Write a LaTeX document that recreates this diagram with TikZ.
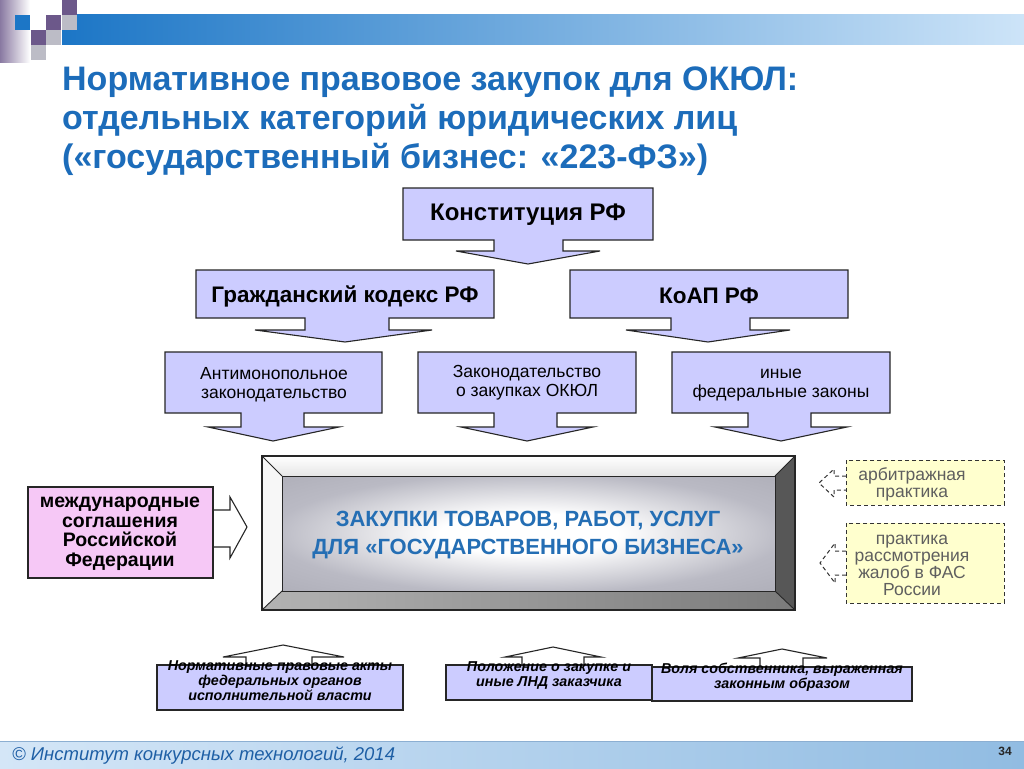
\documentclass[tikz,border=0pt]{standalone}
\usepackage{fontspec}
\setmainfont{Liberation Sans}
\usetikzlibrary{calc}
\definecolor{lav}{RGB}{204,204,255}
\definecolor{pinkf}{RGB}{246,200,246}
\definecolor{yelf}{RGB}{255,255,206}
\definecolor{tblue}{RGB}{28,108,186}
\definecolor{cblue}{RGB}{36,110,180}
\definecolor{fblue}{RGB}{30,95,165}
\definecolor{barblue}{RGB}{28,118,198}
\definecolor{barlight}{RGB}{205,228,248}
\definecolor{sqpurple}{RGB}{108,88,138}
\definecolor{sqgray}{RGB}{188,188,198}
\definecolor{gtext}{RGB}{95,95,95}
\definecolor{bevgray}{RGB}{186,186,196}
\definecolor{bevdark}{RGB}{160,160,170}
\definecolor{footl}{RGB}{212,230,247}
\definecolor{footr}{RGB}{145,188,226}
\definecolor{footline}{RGB}{140,175,210}
\pgfdeclareradialshading{bevin}{\pgfpoint{0bp}{0bp}}{color(0bp)=(white); color(9bp)=(white); color(26bp)=(bevgray); color(50bp)=(bevdark)}
\tikzset{
  blk/.style={draw=black!85, fill=lav, line width=1.1pt, line join=miter},
  warr/.style={draw=black!85, fill=white, line width=1.1pt, line join=miter},
  dsh/.style={draw=black!80, line width=1pt, dash pattern=on 4pt off 3pt},
  ttl/.style={font=\fontsize{34}{39}\selectfont\bfseries, text=tblue, inner sep=0, anchor=base west},
  big/.style={font=\fontsize{22.5}{26}\selectfont\bfseries, align=center, inner sep=0},
  mid/.style={font=\fontsize{17.5}{19}\selectfont, align=center, inner sep=0},
  pinkt/.style={font=\fontsize{19.5}{19.5}\selectfont\bfseries, align=center, inner sep=0},
  grayt/.style={font=\fontsize{17.5}{17}\selectfont, text=gtext, align=center, inner sep=0},
  smallt/.style={font=\fontsize{14.3}{15}\selectfont\bfseries\itshape, align=center, inner sep=0},
  ctext/.style={font=\fontsize{22}{28}\selectfont\bfseries, text=cblue, align=center, inner sep=0}
}
\begin{document}
\begin{tikzpicture}[x=1pt,y=-1pt]
\useasboundingbox (0,0) rectangle (1024,768);
\fill[white] (0,0) rectangle (1024,768);
% header decoration
\shade[left color=sqpurple!80, right color=white] (0,0) rectangle (30,62);
\shade[left color=barblue, right color=barlight] (62,15) rectangle (1024,45);
\fill[sqpurple] (62,0) rectangle (77,15);
\fill[barblue] (15,15) rectangle (30,30);
\fill[sqpurple] (46,15) rectangle (61,30);
\fill[sqgray] (62,15) rectangle (77,30);
\fill[sqpurple] (31,30) rectangle (46,45);
\fill[sqgray] (46,30) rectangle (61,45);
\fill[sqgray] (31,45) rectangle (46,60);
% title
\node[ttl] (t1) at (62,90) {Нормативное правовое закупок для ОКЮЛ:};
\node[ttl] (t2) at (62,129) {отдельных категорий юридических лиц};
\node[ttl] (t3) at (62,168) {(«государственный бизнес: «223-ФЗ»)};
% row 1
\draw[blk] (403,188) -- (653,188) -- (653,240) -- (563,240) -- (563,251) -- (600,251) -- (528,264) -- (456,251) -- (494,251) -- (494,240) -- (403,240) -- cycle;
\node[big, font=\fontsize{24}{26}\selectfont\bfseries] (konst) at (528,215) {Конституция РФ};
% row 2
\draw[blk] (196,270) -- (494,270) -- (494,318) -- (389,318) -- (389,330) -- (432,330) -- (345,342) -- (255,330) -- (305,330) -- (305,318) -- (196,318) -- cycle;
\node[big] (gk) at (345,296) {Гражданский кодекс РФ};
\draw[blk] (570,270) -- (848,270) -- (848,318) -- (750,318) -- (750,330) -- (790,330) -- (708,342) -- (626,330) -- (671,330) -- (671,318) -- (570,318) -- cycle;
\node[big] (koap) at (709,296) {КоАП РФ};
% row 3
\draw[blk] (165,352) -- (382,352) -- (382,413) -- (304,413) -- (304,427) -- (339,427) -- (273,441) -- (208,427) -- (241,427) -- (241,413) -- (165,413) -- cycle;
\node[mid] (anti) at (274,385) {Антимонопольное\\законодательство};
\draw[blk] (418,352) -- (636,352) -- (636,413) -- (557,413) -- (557,427) -- (593,427) -- (527,441) -- (461,427) -- (494,427) -- (494,413) -- (418,413) -- cycle;
\node[mid] (zak) at (527,383) {Законодательство\\о закупках ОКЮЛ};
\draw[blk] (672,352) -- (890,352) -- (890,413) -- (811,413) -- (811,427) -- (847,427) -- (781,441) -- (715,427) -- (748,427) -- (748,413) -- (672,413) -- cycle;
\node[mid] (inye) at (781,385) {иные\\федеральные законы};
% central bevel box
\shade[top color=white, bottom color=black!10] (262,456) -- (795,456) -- (775,476) -- (282,476) -- cycle;
\fill[black!3] (262,456) -- (282,476) -- (282,591) -- (262,610) -- cycle;
\fill[black!66] (795,456) -- (795,610) -- (775,591) -- (775,476) -- cycle;
\shade[left color=black!30, right color=black!52] (262,610) -- (795,610) -- (775,591) -- (282,591) -- cycle;
\shade[shading=bevin] (282,476) rectangle (775,591);
\draw[black!85, line width=1.1pt] (262,456) rectangle (795,610);
\draw[black!85, line width=0.9pt] (282,476) rectangle (775,591);
\draw[black!85, line width=0.9pt] (262,456) -- (282,476) (795,456) -- (775,476) (262,610) -- (282,591) (795,610) -- (775,591);
\node[ctext] (centre) at (528,535) {ЗАКУПКИ ТОВАРОВ, РАБОТ, УСЛУГ\\ДЛЯ «ГОСУДАРСТВЕННОГО БИЗНЕСА»};
% left pink box with arrow
\draw[warr] (205,510) -- (230,510) -- (230,497) -- (247,527) -- (230,558) -- (230,547) -- (205,547);
\draw[draw=black!85, fill=pinkf, line width=1.1pt] (28,487) rectangle (213,578);
\node[pinkt] (intl) at (120,534) {международные\\соглашения\\Российской\\Федерации};
% right dashed boxes
\draw[dsh, fill=yelf] (846,460) rectangle (1004,505);
\node[grayt] (arb) at (912,484) {арбитражная\\практика};
\draw[dsh] (846,476) -- (834,476) -- (834,469) -- (819,483) -- (834,497) -- (834,490) -- (846,490);
\draw[dsh, fill=yelf] (846,523) rectangle (1004,603);
\node[grayt] (fas) at (912,565) {практика\\рассмотрения\\жалоб в ФАС\\России};
\draw[dsh] (846,551) -- (835,551) -- (835,543) -- (820,563) -- (835,583) -- (835,575) -- (846,575);
% bottom boxes with up arrows
\draw[warr] (246,665) -- (246,657) -- (223,657) -- (283,645) -- (344,657) -- (312,657) -- (312,665);
\draw[blk] (157,665) rectangle (403,710);
\node[smallt] (npa) at (280,681) {Нормативные правовые акты\\федеральных органов\\исполнительной власти};
\draw[warr] (522,665) -- (522,657) -- (505,657) -- (553,647) -- (601,657) -- (584,657) -- (584,665);
\draw[blk] (446,665) rectangle (652,700);
\node[smallt] (lnd) at (549,675) {Положение о закупке и\\иные ЛНД заказчика};
\draw[warr] (760,667) -- (760,658) -- (738,658) -- (782,649) -- (827,658) -- (803,658) -- (803,667);
\draw[blk] (652,667) rectangle (912,701);
\node[smallt] (volya) at (782,677) {Воля собственника, выраженная\\законным образом};
% footer
\shade[left color=footl, right color=footr] (0,741) rectangle (1024,768);
\draw[footline, line width=1pt] (0,741) -- (1024,741);
\node[font=\fontsize{18.5}{20}\selectfont\itshape, text=fblue, anchor=west, inner sep=0] (copy) at (12,756) {© Институт конкурсных технологий, 2014};
\node[font=\fontsize{12}{14}\selectfont\bfseries, text=black!85, inner sep=0] (page) at (1005,751) {34};
\end{tikzpicture}
\end{document}
